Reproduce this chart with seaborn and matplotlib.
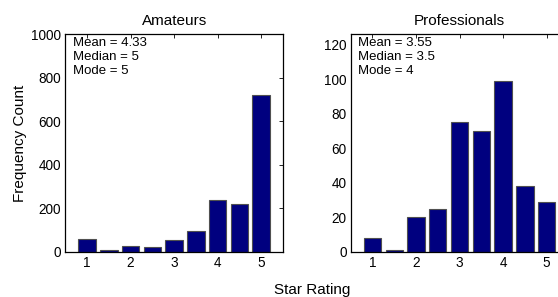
import matplotlib
matplotlib.use("Agg")
import matplotlib.pyplot as plt
import seaborn as sns
import pandas as pd

ratings = [1, 1.5, 2, 2.5, 3, 3.5, 4, 4.5, 5]
amateur_counts = [58, 8, 28, 22, 54, 95, 238, 221, 723]
pro_counts = [8, 1, 20, 25, 75, 70, 99, 38, 29]
titles = ["Amateurs", "Professionals"]
stats_text = ["Mean = 4.33\nMedian = 5\nMode = 5", "Mean = 3.55\nMedian = 3.5\nMode = 4"]
yticks_list = [[0, 200, 400, 600, 800, 1000], [0, 20, 40, 60, 80, 100, 120]]
ylims = [(0, 1000), (0, 126)]
xticks = [1, 2, 3, 4, 5]

sns.set_style("white")
plt.rcParams['font.family'] = ['Liberation Sans', 'DejaVu Sans']
plt.rcParams['text.color'] = 'black'
plt.rcParams['axes.labelcolor'] = 'black'
plt.rcParams['xtick.color'] = 'black'
plt.rcParams['ytick.color'] = 'black'
plt.rcParams['axes.titlecolor'] = 'black'

fig = plt.figure(figsize=(5.58, 2.97), dpi=100)
ax1 = fig.add_axes([0.117, 0.1525, 0.390, 0.732])
ax2 = fig.add_axes([0.6285, 0.1525, 0.390, 0.732])

for ax, counts, title, txt, yt, yl in zip([ax1, ax2], [amateur_counts, pro_counts], titles,
                                          stats_text, yticks_list, ylims):
    df = pd.DataFrame({"rating": ratings, "count": counts})
    sns.barplot(data=df, x="rating", y="count", native_scale=True, color="#00007f",
                saturation=1, edgecolor="#505050", linewidth=0.8, width=0.8, ax=ax)
    ax.set_xlim(0.5, 5.5)
    ax.set_ylim(*yl)
    ax.set_xticks(xticks)
    ax.set_xticklabels([str(x) for x in xticks])
    ax.set_yticks(yt)
    ax.set_xlabel("")
    ax.set_ylabel("")
    ax.set_title(title, fontsize=11, pad=6.5, color="black")
    ax.tick_params(direction="in", length=3, width=0.6, top=True, right=True,
                   labelsize=9.8, pad=3, color="black", labelcolor="black")
    for s in ax.spines.values():
        s.set_visible(True)
        s.set_color("black")
        s.set_linewidth(0.9)
    ax.text(0.034, 0.988, txt, transform=ax.transAxes, ha="left", va="top",
            fontsize=9.5, linespacing=1.22, color="black")

ax1.set_ylabel("Frequency Count", fontsize=11, labelpad=3, color="black")
fig.text(0.56, 0.024, "Star Rating", ha="center", va="center", fontsize=11, color="black")

fig.savefig("out.png", dpi=100)
